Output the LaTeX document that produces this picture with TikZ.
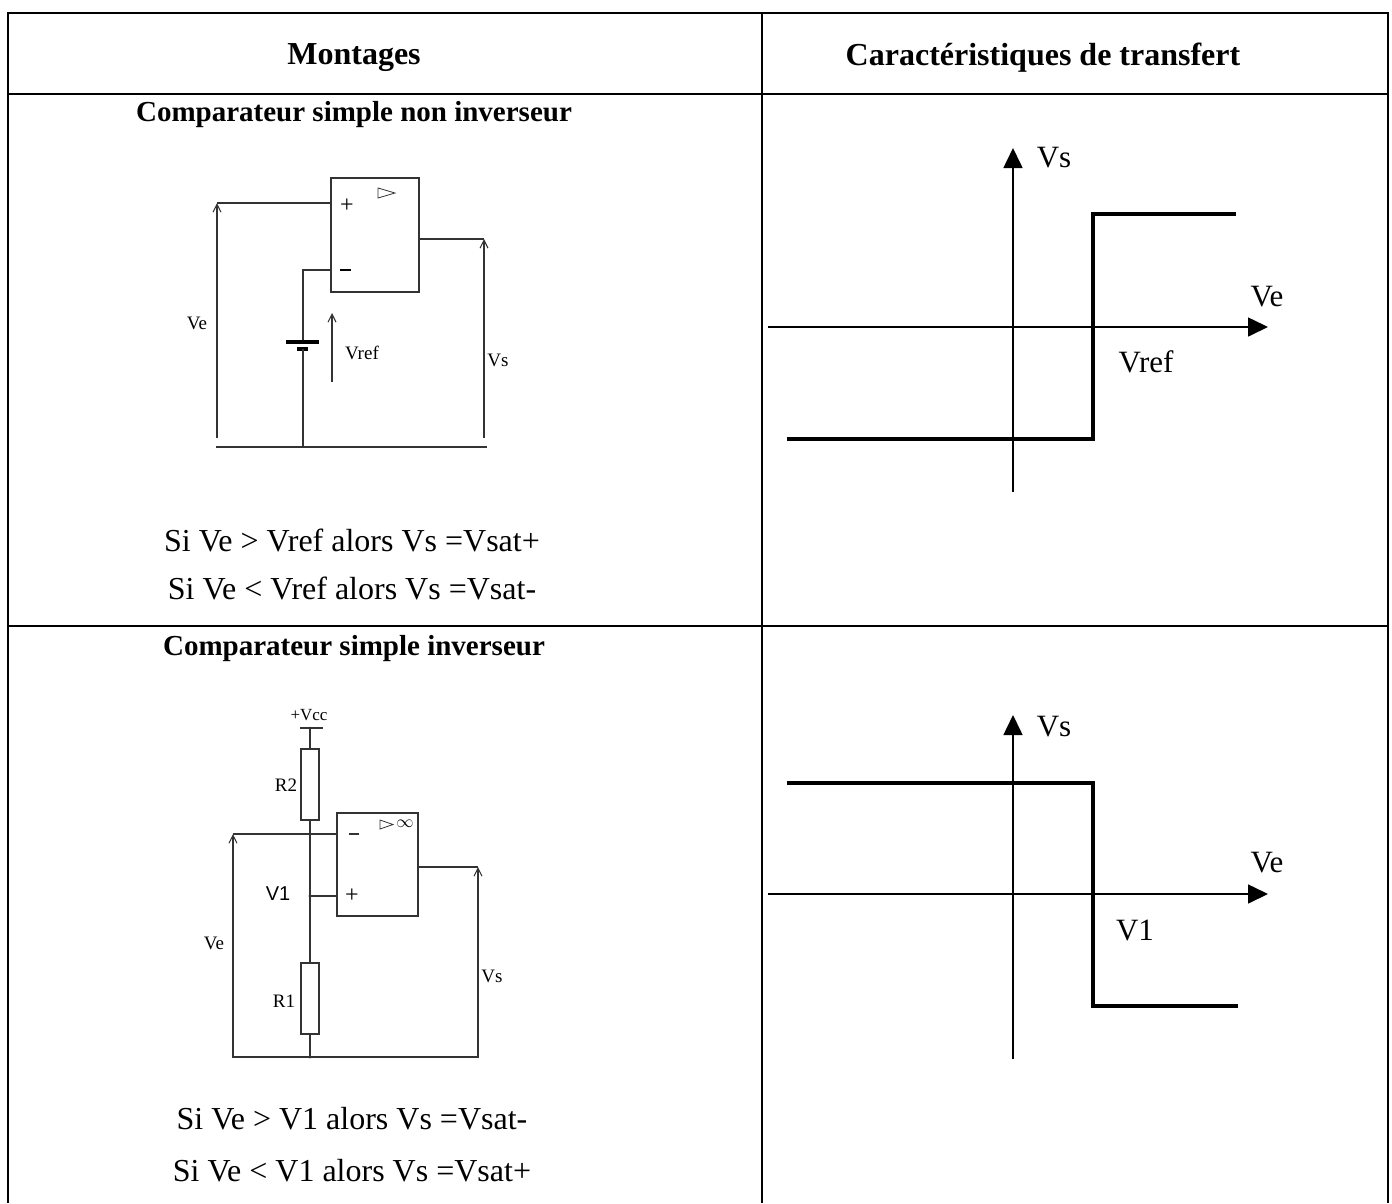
\documentclass[tikz,border=0pt]{standalone}
\usepackage{fontspec}
\setmainfont{Liberation Serif}
\newfontfamily\sansf{Liberation Sans}
\usetikzlibrary{arrows.meta}
\begin{document}
\begin{tikzpicture}[x=1pt,y=-1pt,
  tbl/.style={line width=2.2pt},
  wire/.style={line width=1.1pt, draw=black!80},
  varrow/.style={wire, -{Straight Barb[length=8pt,width=8pt]}},
  axis/.style={line width=1.6pt, -{Triangle[length=20pt,width=19pt]}},
  curve/.style={line width=4pt},
  plate/.style={line width=4pt},
  res/.style={draw=black!80, line width=1.1pt, minimum width=18pt, minimum height=71pt, inner sep=0pt},
  ampbox/.style={draw=black!80, line width=1.1pt, inner sep=0pt},
  lbl/.style={inner sep=0pt, font=\fontsize{19}{22}\selectfont},
  sgn/.style={inner sep=0pt, font=\fontsize{24}{26}\selectfont},
  glbl/.style={inner sep=0pt, font=\fontsize{31}{36}\selectfont},
  txt/.style={inner sep=0pt, font=\fontsize{32}{38}\selectfont},
  head/.style={inner sep=0pt, font=\fontsize{32}{38}\selectfont\bfseries},
  sub/.style={inner sep=0pt, font=\fontsize{29}{34}\selectfont\bfseries},
]
\useasboundingbox (0,0) rectangle (1392,1203);
% ---------- table ----------
\draw[tbl] (8,1203) -- (8,13) -- (1388,13) -- (1388,1203);
\draw[tbl] (762,13) -- (762,1203);
\draw[tbl] (8,94) -- (1388,94);
\draw[tbl] (8,626) -- (1388,626);
\node[head] (h1) at (354,58) {Montages};
\node[head] (h2) at (1043,58) {Caractéristiques de transfert};
\node[sub] (t1) at (354,115) {Comparateur simple non inverseur};
\node[txt] (c1a) at (352,540) {Si Ve > Vref alors Vs =Vsat+};
\node[txt] (c1b) at (352,588) {Si Ve < Vref alors Vs =Vsat-};
\node[sub] (t2) at (354,649) {Comparateur simple inverseur};
\node[txt] (c2a) at (352,1119) {Si Ve > V1 alors Vs =Vsat-};
\node[txt] (c2b) at (352,1171) {Si Ve < V1 alors Vs =Vsat+};
% ---------- circuit 1 ----------
\node[ampbox, minimum width=88pt, minimum height=114pt] (oa1) at (375,235) {};
\draw[wire, line width=0.8pt] (378,188) -- (378,198) -- (395,193) -- cycle;
\coordinate (p1) at (331,203);
\coordinate (m1) at (331,270);
\coordinate (o1) at (419,239);
\coordinate (ve1t) at (217,203);
\coordinate (ve1b) at (217,438);
\coordinate (gndL1) at (216,447);
\coordinate (gndR1) at (487,447);
\coordinate (vs1t) at (484,239);
\coordinate (vs1b) at (484,438);
\coordinate (bat1w) at (303,270);
\coordinate (bat1p) at (303,342);
\coordinate (bat1n) at (303,349);
\coordinate (bat1g) at (303,447);
\coordinate (vr1t) at (332,313);
\coordinate (vr1b) at (332,382);
\draw[wire] (p1) -- (ve1t);
\draw[varrow] (ve1b) -- (ve1t);
\draw[wire] (m1) -- (bat1w) -- (bat1p);
\draw[plate] (bat1p) ++(-17,0) -- ++(33,0);
\draw[plate] (bat1n) ++(-6,0) -- ++(11,0);
\draw[wire] (bat1n) -- (bat1g);
\draw[wire] (gndL1) -- (gndR1);
\draw[varrow] (vr1b) -- (vr1t);
\draw[wire] (o1) -- (vs1t);
\draw[varrow] (vs1b) -- (vs1t);
\node[lbl] (lve1) at (197,323) {Ve};
\node[lbl] (lvr1) at (362,353) {Vref};
\node[lbl] (lvs1) at (498,360) {Vs};
\node[sgn] (plus1) at (347,206) {+};
\draw[line width=2pt] (340,270) -- (351,270);
% ---------- circuit 2 ----------
\node[ampbox, minimum width=81pt, minimum height=103pt] (oa2) at (377.5,864.5) {};
\draw[wire, line width=0.8pt] (380,820) -- (380,829) -- (393,824.5) -- cycle;
\node[inner sep=0pt, font=\fontsize{18}{20}\selectfont] (inf2) at (405,824) {$\infty$};
\coordinate (vcc) at (310,728);
\draw[wire] (vcc) ++(-10,0) -- ++(23,0);
\fill[black!80] (vcc) circle (1.5);
\node[lbl, font=\fontsize{17}{20}\selectfont] (lvcc) at (309,715) {+Vcc};
\node[res] (R2) at (310,784.5) {};
\node[res] (R1) at (310,998.5) {};
\coordinate (v1n) at (310,896);
\coordinate (gnd2) at (310,1057);
\coordinate (m2) at (337,834);
\coordinate (p2) at (337,896);
\coordinate (o2) at (418,867);
\coordinate (ve2t) at (233,834);
\coordinate (ve2b) at (233,1057);
\coordinate (vs2t) at (478,867);
\coordinate (vs2b) at (478,1057);
\coordinate (gndL2) at (232,1057);
\coordinate (gndR2) at (479,1057);
\draw[wire] (vcc) -- (R2.north);
\draw[wire] (R2.south) -- (v1n) -- (R1.north);
\draw[wire] (R1.south) -- (gnd2);
\draw[wire] (ve2t) -- (m2);
\draw[varrow] (ve2b) -- (ve2t);
\draw[wire] (v1n) -- (p2);
\fill[black!80] (v1n) circle (1.6);
\fill[black!80] (gnd2) circle (1.6);
\draw[wire] (gndL2) -- (gndR2);
\draw[wire] (o2) -- (vs2t);
\draw[varrow] (vs2b) -- (vs2t);
\node[lbl] (lr2) at (286,785) {R2};
\node[lbl] (lr1) at (284,1001) {R1};
\node[lbl] (lve2) at (214,943) {Ve};
\node[lbl] (lvs2) at (492,976) {Vs};
\node[inner sep=0pt, font=\sansf\fontsize{20}{24}\selectfont] (lv1) at (278,894) {V1};
\draw[wire] (349,834) -- (359,834);
\node[sgn] (plus2) at (352,896) {+};
% ---------- graph 1 ----------
\coordinate (g1xl) at (768,327);
\coordinate (g1xr) at (1268,327);
\coordinate (g1yb) at (1013,492);
\coordinate (g1yt) at (1013,148);
\coordinate (g1a) at (787,439);
\coordinate (g1b) at (1093,439);
\coordinate (g1c) at (1093,214);
\coordinate (g1d) at (1236,214);
\draw[axis] (g1xl) -- (g1xr);
\draw[axis] (g1yb) -- (g1yt);
\draw[curve] (g1a) -- (g1b) -- (g1c) -- (g1d);
\node[glbl] (lg1vs) at (1054,158) {Vs};
\node[glbl] (lg1ve) at (1267,297) {Ve};
\node[glbl] (lg1vr) at (1146,362) {Vref};
% ---------- graph 2 ----------
\coordinate (g2xl) at (768,894);
\coordinate (g2xr) at (1268,894);
\coordinate (g2yb) at (1013,1059);
\coordinate (g2yt) at (1013,715);
\coordinate (g2a) at (787,783);
\coordinate (g2b) at (1093,783);
\coordinate (g2c) at (1093,1006);
\coordinate (g2d) at (1238,1006);
\draw[axis] (g2xl) -- (g2xr);
\draw[axis] (g2yb) -- (g2yt);
\draw[curve] (g2a) -- (g2b) -- (g2c) -- (g2d);
\node[glbl] (lg2vs) at (1054,727) {Vs};
\node[glbl] (lg2ve) at (1267,863) {Ve};
\node[glbl] (lg2v1) at (1135,930) {V1};
\end{tikzpicture}
\end{document}
